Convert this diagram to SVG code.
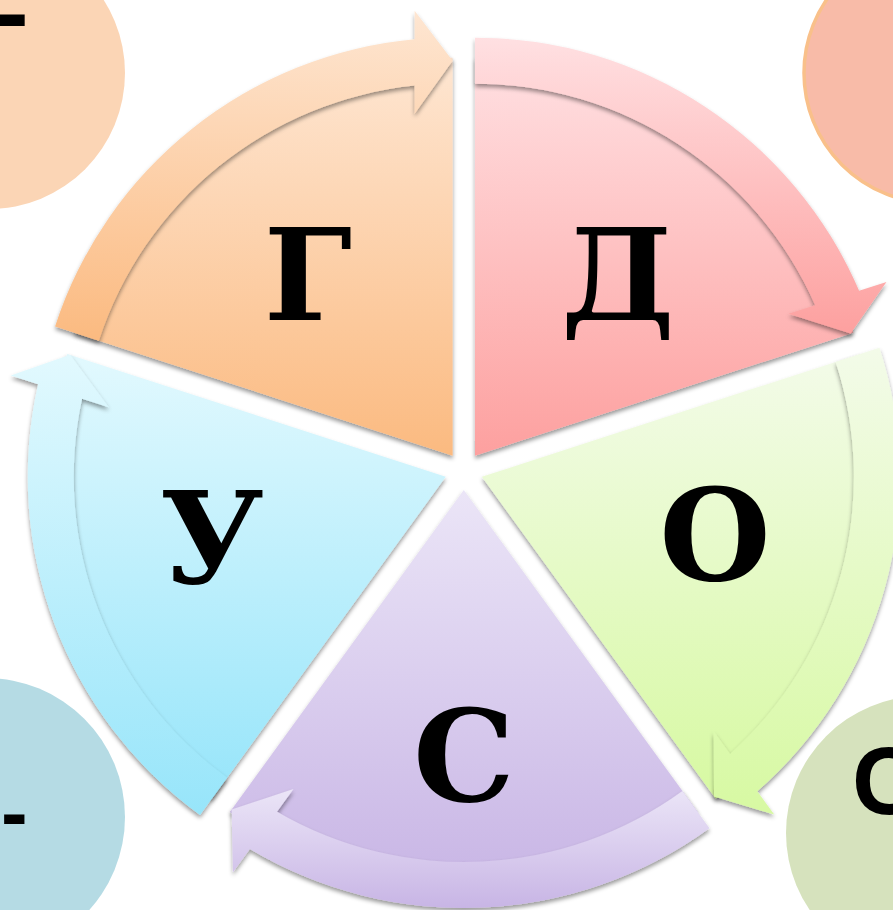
<svg xmlns="http://www.w3.org/2000/svg" width="893" height="910" viewBox="0 0 893 910">
<defs>
<linearGradient id="gG" x1="0" y1="0" x2="0" y2="1"><stop offset="0" stop-color="#FEE6D2"/><stop offset="1" stop-color="#FBBA80"/></linearGradient>
<linearGradient id="gD" x1="0" y1="0" x2="0" y2="1"><stop offset="0" stop-color="#FFE0E2"/><stop offset="1" stop-color="#FDA09F"/></linearGradient>
<linearGradient id="gO" x1="0" y1="0" x2="0" y2="1"><stop offset="0" stop-color="#F3FBE9"/><stop offset="1" stop-color="#D7F9A2"/></linearGradient>
<linearGradient id="gS" x1="0" y1="0" x2="0" y2="1"><stop offset="0" stop-color="#EBE5F7"/><stop offset="1" stop-color="#C8B5E5"/></linearGradient>
<linearGradient id="gU" x1="0" y1="0" x2="0" y2="1"><stop offset="0" stop-color="#E2F9FE"/><stop offset="1" stop-color="#97E5FA"/></linearGradient>
<filter id="sh" x="-10%" y="-10%" width="120%" height="120%">
<feDropShadow dx="0" dy="3" stdDeviation="2.2" flood-color="#000" flood-opacity="0.4"/>
</filter>
</defs>
<style>
.pie{filter:url(#sh)}
.arr{filter:url(#sh)}
.lbl{font-family:"DejaVu Serif","Liberation Serif",serif;font-weight:bold;font-size:128px;text-anchor:middle;fill:#000}
.side{font-family:"Liberation Sans",Arial,sans-serif;font-weight:bold;fill:#000}
</style>

<g id="circle-tl">
<circle cx="-11" cy="73" r="136" fill="#FBD5B5"/>
<text class="side" x="-3" y="45" font-size="96" transform="translate(-3 0) scale(1.1 1)">-</text>
</g>
<g id="circle-tr">
<circle cx="934" cy="73" r="130" fill="#F8BBA8" stroke="#F9C08A" stroke-width="3.5"/>
</g>
<g id="circle-bl">
<circle cx="-14" cy="817" r="139" fill="#B5DBE4"/>
<text class="side" x="1" y="840" font-size="80">-</text>
</g>
<g id="circle-br">
<circle cx="923" cy="833" r="137" fill="#D6E2BD"/>
<text class="side" x="852" y="814" font-size="96">С</text>
</g>

<g id="node-G">
<path class="pie" fill="url(#gG)" d="M452.63,455.63 L74.11,332.64 A398,398 0 0 1 452.63,57.63 Z"/>
<text class="lbl" x="308" y="320">Г</text>
</g>
<g id="node-D">
<path class="pie" fill="url(#gD)" d="M474.97,455.63 L474.97,57.63 A398,398 0 0 1 853.49,332.64 Z"/>
<text class="lbl" x="618" y="320">Д</text>
</g>
<g id="node-O">
<path class="pie" fill="url(#gO)" d="M481.87,476.87 L860.39,353.88 A398,398 0 0 1 715.81,798.86 Z"/>
<text class="lbl" x="715" y="580">О</text>
</g>
<g id="node-S">
<path class="pie" fill="url(#gS)" d="M463.8,490 L697.74,811.99 A398,398 0 0 1 229.86,811.99 Z"/>
<text class="lbl" x="464" y="801">С</text>
</g>
<g id="node-U">
<path class="pie" fill="url(#gU)" d="M445.73,476.87 L211.79,798.86 A398,398 0 0 1 67.21,353.88 Z"/>
<text class="lbl" x="212" y="583">У</text>
</g>

<g id="connectors">
<path class="arr" fill="url(#gG)" d="M55.09,326.46 A418,418 0 0 1 414.63,39.36 L414.63,10.63 L452.63,60.63 L414.63,113.63 L414.63,85.58 A372,372 0 0 0 98.84,340.68 Z"/>
<path class="arr" fill="url(#gD)" d="M474.97,37.63 A418,418 0 0 1 859.12,290.85 L886.45,281.98 L850.64,333.57 L788.49,313.81 L815.17,305.14 A372,372 0 0 0 474.97,83.63 Z"/>
<path class="arr" fill="url(#gO)" d="M879.42,347.70 A418,418 0 0 1 757.29,791.30 L774.18,814.54 L714.05,796.43 L713.63,731.21 L730.12,753.91 A372,372 0 0 0 835.66,361.91 Z"/>
<path class="arr" fill="url(#gS)" d="M709.49,828.17 A418,418 0 0 1 249.86,849.11 L232.97,872.35 L231.62,809.56 L293.52,789.02 L277.03,811.72 A372,372 0 0 0 682.45,790.96 Z"/>
<path class="arr" fill="url(#gU)" d="M200.03,815.03 A418,418 0 0 1 38.10,384.37 L10.77,375.50 L70.06,354.81 L108.73,407.33 L82.05,398.66 A372,372 0 0 0 227.08,777.82 Z"/>
</g>
</svg>
